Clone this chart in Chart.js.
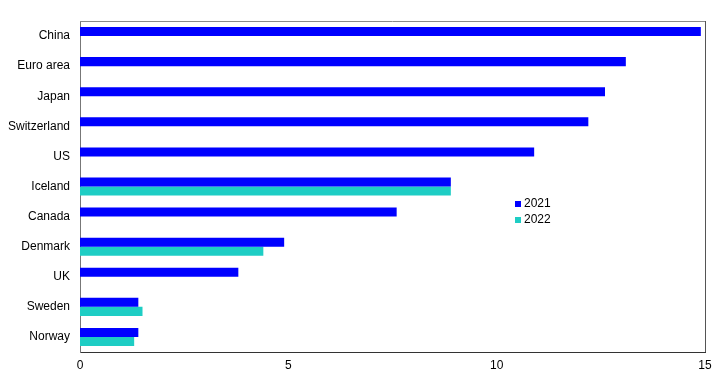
<!DOCTYPE html>
<html>
<head>
<meta charset="utf-8">
<script src="https://cdn.jsdelivr.net/npm/chart.js@4"></script>
<style>
  html, body { margin: 0; padding: 0; background: #fff; }
  #wrap { width: 722px; height: 376px; }
</style>
</head>
<body>
<div id="wrap"><canvas id="barChart"></canvas></div>
<script>
var countries = ['China', 'Euro area', 'Japan', 'Switzerland', 'US', 'Iceland', 'Canada', 'Denmark', 'UK', 'Sweden', 'Norway'];
var values2021 = [14.9, 13.1, 12.6, 12.2, 10.9, 8.9, 7.6, 4.9, 3.8, 1.4, 1.4];
var values2022 = [null, null, null, null, null, 8.9, null, 4.4, null, 1.5, 1.3];
var xTicks = [0, 5, 10, 15];

// frame around plot area plus the small legend inside it
var framePlugin = {
    id: 'frame',
    afterDraw: function(chart) {
        var ctx = chart.ctx;
        var a = chart.chartArea;
        ctx.save();
        ctx.lineWidth = 1;
        ctx.strokeStyle = '#8a8a8a';
        ctx.beginPath();
        ctx.moveTo(a.left, a.top + 0.5);
        ctx.lineTo(a.right, a.top + 0.5);
        ctx.stroke();
        ctx.strokeStyle = '#555555';
        ctx.beginPath();
        ctx.moveTo(a.right + 0.5, a.top);
        ctx.lineTo(a.right + 0.5, a.bottom);
        ctx.stroke();

        var lx = a.left + 0.696 * (a.right - a.left);
        var ly = 204;
        ctx.font = '12px "Liberation Sans", Arial, sans-serif';
        ctx.textBaseline = 'middle';
        ctx.textAlign = 'left';
        chart.data.datasets.forEach(function(ds, i) {
            var y = ly + i * 16;
            ctx.fillStyle = ds.backgroundColor;
            ctx.fillRect(lx, y - 3, 6, 6);
            ctx.fillStyle = '#000';
            ctx.fillText(ds.label, lx + 9, y);
        });
        ctx.restore();
    }
};

document.addEventListener("DOMContentLoaded", function() {
    var ctx = document.getElementById('barChart').getContext('2d');
    var barChart = new Chart(ctx, {
        type: 'bar',
        data: {
            labels: countries,
            datasets: [{
                label: '2021',
                data: values2021,
                backgroundColor: '#0000ff',
                borderWidth: 0
            }, {
                label: '2022',
                data: values2022,
                backgroundColor: '#1ecdc4',
                borderWidth: 0
            }]
        },
        options: {
            indexAxis: 'y',
            responsive: true,
            maintainAspectRatio: false,
            animation: false,
            layout: {
                padding: { top: 21, right: 17, left: 0, bottom: 0 }
            },
            datasets: {
                bar: {
                    categoryPercentage: 0.6,
                    barPercentage: 1.0,
                    skipNull: false
                }
            },
            plugins: {
                legend: { display: false },
                tooltip: { enabled: false }
            },
            scales: {
                x: {
                    min: 0,
                    max: 15,
                    afterBuildTicks: function(scale) {
                        scale.ticks = xTicks.map(function(v) { return { value: v }; });
                    },
                    afterFit: function(scale) { scale.height = 24; },
                    grid: { display: false, drawTicks: false },
                    border: { display: true, color: '#333333', width: 1 },
                    ticks: {
                        padding: 6,
                        color: '#000',
                        font: { family: '"Liberation Sans", Arial, sans-serif', size: 12 }
                    }
                },
                y: {
                    afterFit: function(scale) { scale.width = 80; },
                    grid: { display: false, drawTicks: false },
                    border: { display: true, color: '#777777', width: 1 },
                    ticks: {
                        padding: 10,
                        color: '#000',
                        font: { family: '"Liberation Sans", Arial, sans-serif', size: 12 }
                    }
                }
            }
        },
        plugins: [framePlugin]
    });
});
</script>
</body>
</html>
